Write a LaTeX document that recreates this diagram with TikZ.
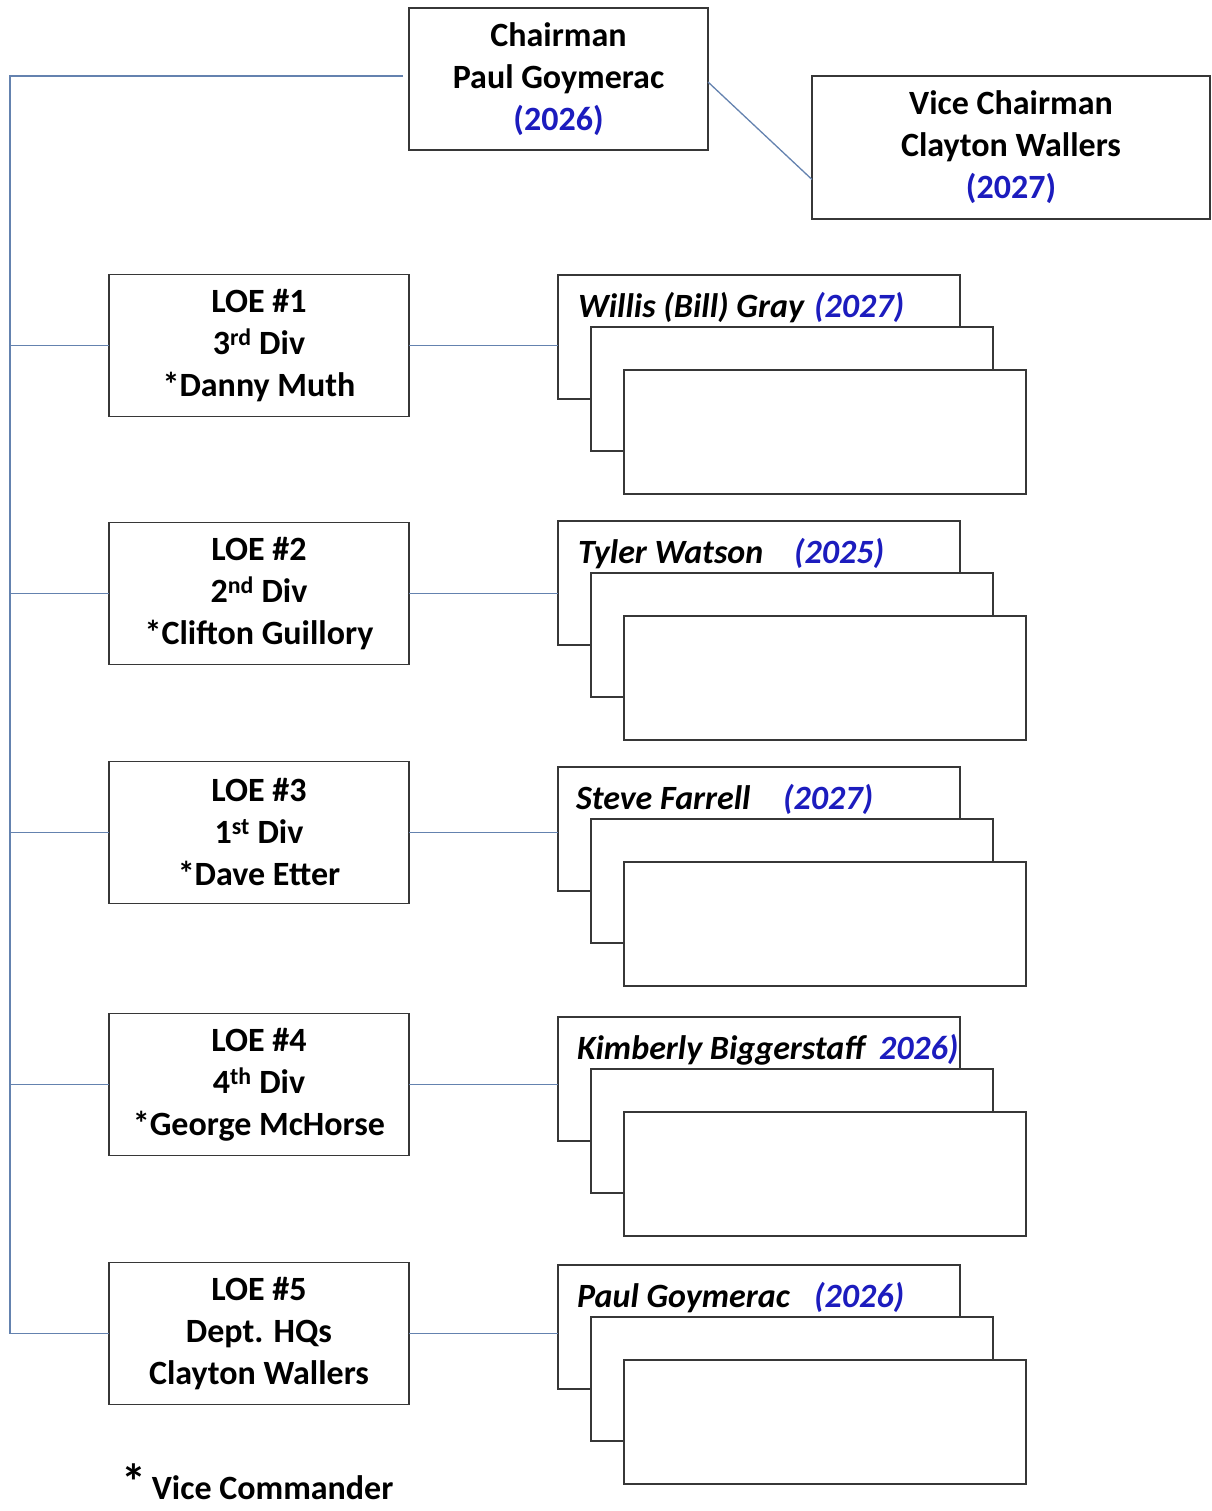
\documentclass[tikz,border=0pt]{standalone}
\usepackage{fontspec}
\setmainfont{Carlito}
\definecolor{yearblue}{RGB}{28,28,190}
\definecolor{linkblue}{RGB}{100,130,175}
\definecolor{boxgray}{RGB}{55,55,55}

\begin{document}
\begin{tikzpicture}[
    x=1pt, y=-1pt,
    every node/.style={
        inner sep=0pt, outer sep=0pt,
        font=\fontsize{34}{42}\selectfont\bfseries
    },
    box/.style={draw=boxgray, line width=1.4pt, align=center,
        minimum width=300pt, minimum height=142pt},
    card/.style={draw=boxgray, fill=white, line width=1.4pt,
        minimum width=402pt, minimum height=124pt},
    who/.style={anchor=base west, font=\fontsize{34}{42}\selectfont\bfseries\itshape},
    year/.style={who, text=yearblue},
    link/.style={linkblue, line width=1.3pt}
]
  \useasboundingbox (0,0) rectangle (1211,1511);

  % Chairman and vice chairman
  \node[box, minimum width=299pt] (chair) at (558.5,79) {Chairman\\Paul Goymerac\\\textcolor{yearblue}{(2026)}};
  \node[box, minimum width=398pt, minimum height=143pt] (vice) at (1011,147.5) {Vice Chairman\\Clayton Wallers\\\textcolor{yearblue}{(2027)}};

  % Lines of effort
  \node[box] (loe1) at (259,345.5)  {LOE \#1\\3\textsuperscript{rd} Div\\*Danny Muth};
  \node[box] (loe2) at (259,593.5)  {LOE \#2\\2\textsuperscript{nd} Div\\*Clifton Guillory};
  \node[box] (loe3) at (259,832.5)  {LOE \#3\\1\textsuperscript{st} Div\\*Dave Etter};
  \node[box] (loe4) at (259,1084.5) {LOE \#4\\4\textsuperscript{th} Div\\*George McHorse};
  \node[box] (loe5) at (259,1333.5) {LOE \#5\\Dept. HQs\\Clayton Wallers};

  % Member stacks
  \node[card] (lead1) at (759,337) {};
  \node[who]  (name1) at (578,317) {Willis (Bill) Gray};
  \node[year] (term1) at (814,317) {(2027)};
  \node[card] (mid1)  at (792,389) {};
  \node[card] (back1) at (825,432) {};

  \node[card] (lead2) at (759,583) {};
  \node[who]  (name2) at (578,563) {Tyler Watson};
  \node[year] (term2) at (794,563) {(2025)};
  \node[card] (mid2)  at (792,635) {};
  \node[card] (back2) at (825,678) {};

  \node[card] (lead3) at (759,829) {};
  \node[who]  (name3) at (576,809) {Steve Farrell};
  \node[year] (term3) at (783,809) {(2027)};
  \node[card] (mid3)  at (792,881) {};
  \node[card] (back3) at (825,924) {};

  \node[card] (lead4) at (759,1079) {};
  \node[who]  (name4) at (577,1059) {Kimberly Biggerstaff};
  \node[year] (term4) at (879,1059) {2026)};
  \node[card] (mid4)  at (792,1131) {};
  \node[card] (back4) at (825,1174) {};

  \node[card] (lead5) at (759,1327) {};
  \node[who]  (name5) at (577,1307) {Paul Goymerac};
  \node[year] (term5) at (814,1307) {(2026)};
  \node[card] (mid5)  at (792,1379) {};
  \node[card] (back5) at (825,1422) {};

  % Footnote
  \node[anchor=base west] (note) at (121,1499) {{\fontsize{50}{42}\selectfont*}\hspace{6pt}Vice Commander};

  % Connectors
  \coordinate (spine) at (10,76);
  \draw[link] ([xshift=-6pt,yshift=3pt]chair.west) -- (spine) -- (spine |- loe5.west) -- (loe5.west);
  \draw[link] (spine |- loe1.west) -- (loe1.west);
  \draw[link] (spine |- loe2.west) -- (loe2.west);
  \draw[link] (spine |- loe3.west) -- (loe3.west);
  \draw[link] (spine |- loe4.west) -- (loe4.west);
  \draw[link] ([yshift=-3pt]chair.east) -- ([yshift=-32pt]vice.west);

  \draw[link] (loe1.east) -- (loe1.east -| lead1.west);
  \draw[link] (loe2.east) -- (loe2.east -| lead2.west);
  \draw[link] (loe3.east) -- (loe3.east -| lead3.west);
  \draw[link] (loe4.east) -- (loe4.east -| lead4.west);
  \draw[link] (loe5.east) -- (loe5.east -| lead5.west);
\end{tikzpicture}
\end{document}
